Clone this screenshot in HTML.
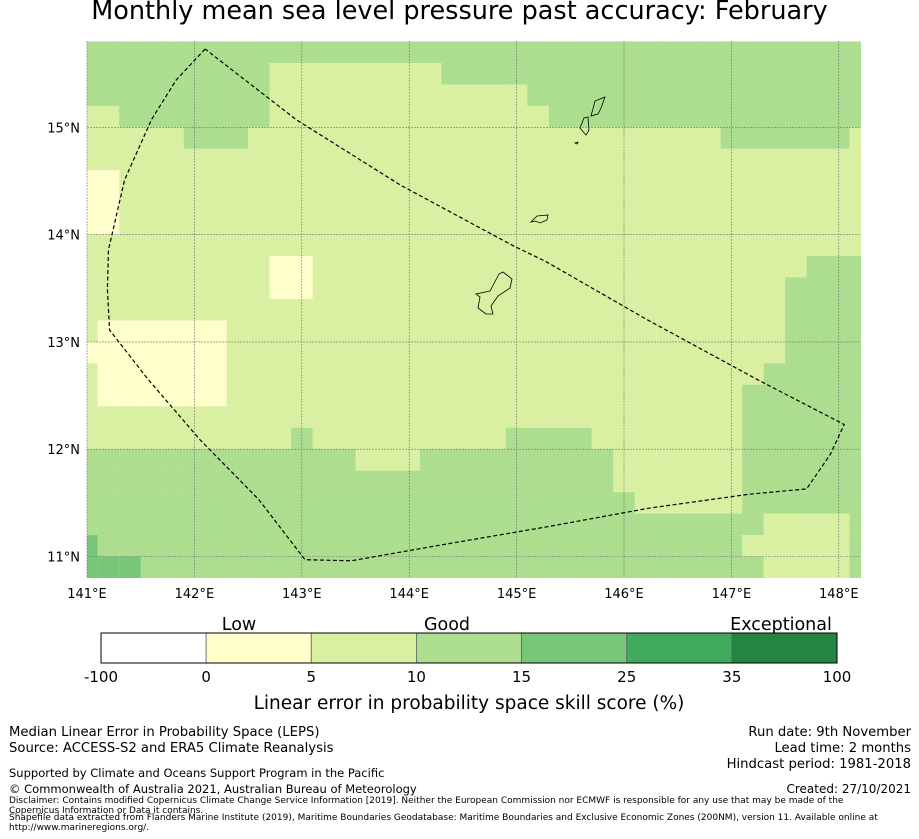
<!DOCTYPE html>
<html><head><meta charset="utf-8">
<style>
body{margin:0;background:#fff;font-family:"DejaVu Sans","Liberation Sans",sans-serif;}
#root{position:relative;width:919px;height:839px;overflow:hidden;}
.t{position:absolute;white-space:nowrap;color:#000;}
</style></head>
<body>
<div id="root">
<div class="t" style="left:0;width:919px;text-align:center;top:-4px;font-size:25.5px;">Monthly mean sea level pressure past accuracy: February</div>
<svg id="map" width="919" height="839" style="position:absolute;left:0;top:0" xmlns="http://www.w3.org/2000/svg"></svg>
<div class="t" style="left:9px;top:725px;font-size:13.2px;line-height:16px">Median Linear Error in Probability Space (LEPS)<br>Source: ACCESS-S2 and ERA5 Climate Reanalysis</div>
<div class="t" style="left:9px;top:766px;font-size:11.5px;">Supported by Climate and Oceans Support Program in the Pacific</div>
<div class="t" style="left:9px;top:782px;font-size:11.5px;">© Commonwealth of Australia 2021, Australian Bureau of Meteorology</div>
<div class="t" style="left:9px;top:796px;font-size:9px;line-height:10px;white-space:normal;width:880px">Disclaimer: Contains modified Copernicus Climate Change Service Information [2019]. Neither the European Commission nor ECMWF is responsible for any use that may be made of the Copernicus Information or Data it contains.</div>
<div class="t" style="left:9px;top:813px;font-size:9px;line-height:10px;white-space:normal;width:900px">Shapefile data extracted from Flanders Marine Institute (2019), Maritime Boundaries Geodatabase: Maritime Boundaries and Exclusive Economic Zones (200NM), version 11. Available online at http://www.marineregions.org/.</div>
<div class="t" style="right:8px;top:725px;font-size:13.2px;line-height:16px;text-align:right">Run date: 9th November<br>Lead time: 2 months<br>Hindcast period: 1981-2018</div>
<div class="t" style="right:8px;top:782px;font-size:12px;">Created: 27/10/2021</div>
</div>
<script>
// grid rows (north to south), each char = class per 0.2° column
const gridRows = [
"3333333333333333333333333333333333333",
"3333333332222222233333333333333333333",
"3333333332222222222223333333333333333",
"2233333332222222222222333333333333333",
"2222233322222222222222222222223333332",
"2222222222222222222222222222222222222",
"1122222222222222222222222222222222222",
"1122222222222222222222222222222222222",
"1122222222222222222222222222222222222",
"2222222222222222222222222222222222222",
"2222222221122222222222222222222222333",
"2222222221122222222222222222222223333",
"2222222222222222222222222222222223333",
"2111111222222222222222222222222223333",
"1111111222222222222222222222222223333",
"2111111222222222222222222222222233333",
"2111111222222222222222222222222333333",
"2222222222222222222222222222222333333",
"2222222222322222222233332222222333333",
"3333333333333222333333333222222333333",
"3333333333333333333333333222222333333",
"3333333333333333333333333322222333333",
"3333333333333333333333333333333322223",
"4333333333333333333333333333333222223",
"4443333333333333333333333333333322223"
];
const classColors = ["#ffffff","#ffffcc","#d9f0a3","#addd8e","#78c679","#41ab5d","#238443"];
const cbTicks = ["-100","0","5","10","15","25","35","100"];
const lonTicks = [141,142,143,144,145,146,147,148];
const latTicks = [15,14,13,12,11];
const boundaryLon = [142.1,141.83,141.6,141.35,141.2,141.19,141.21,141.57,142.05,142.6,143.03,143.46,144.37,145.3,146.23,147.16,147.7,147.92,148.05,147.24,146.21,145.27,144.96,143.92,142.95,142.1];
const boundaryLat = [15.73,15.44,15.07,14.51,13.86,13.49,13.11,12.65,12.09,11.53,10.97,10.96,11.12,11.28,11.45,11.58,11.63,11.95,12.23,12.65,13.21,13.75,13.9,14.46,15.07,15.73];

const svg=document.getElementById('map');
const NS="http://www.w3.org/2000/svg";
const X0=87,X1=861,Y0=41,Y1=578;
const xS=lon=>87+(lon-141)*107.4;
const yS=lat=>556.5-(lat-11)*107.3;
function mk(t,a){const e=document.createElementNS(NS,t);for(const k in a)e.setAttribute(k,a[k]);svg.appendChild(e);return e;}
const clip=mk('clipPath',{id:'mc'});
const cr=document.createElementNS(NS,'rect');cr.setAttribute('x',X0);cr.setAttribute('y',Y0);cr.setAttribute('width',X1-X0);cr.setAttribute('height',Y1-Y0);clip.appendChild(cr);
const g=mk('g',{'clip-path':'url(#mc)'});


gridRows.forEach((row,j)=>{
  for(let i=0;i<row.length;i++){
    const lon0=140.9+0.2*i, lat1=15.8-0.2*j;
    const r=document.createElementNS(NS,'rect');
    r.setAttribute('x',xS(lon0));r.setAttribute('y',yS(lat1));
    r.setAttribute('width',21.6);r.setAttribute('height',21.6);
    r.setAttribute('fill',classColors[+row[i]]);
    
    
    g.appendChild(r);
  }
});
lonTicks.forEach(l=>{const e=mk('line',{x1:xS(l),x2:xS(l),y1:Y0,y2:Y1,stroke:'#777','stroke-width':0.6,'stroke-dasharray':'2,1'});

const t=mk('text',{x:xS(l),y:598,'font-size':13,'text-anchor':'middle','font-family':'DejaVu Sans, sans-serif'});t.textContent=l+'°E';
});
latTicks.forEach(l=>{const e=mk('line',{x1:X0,x2:X1,y1:yS(l),y2:yS(l),stroke:'#777','stroke-width':0.6,'stroke-dasharray':'2,1'});

const t=mk('text',{x:80,y:yS(l)+5,'font-size':13,'text-anchor':'end','font-family':'DejaVu Sans, sans-serif'});t.textContent=l+'°N';
});
const isl=["M486,314 L478,308 L480,297 L476,294 L490,291 L499,274 L503,272 L512,279 L510,288 L498,296 L491,306 L493,314 Z",
"M531,222 L537,216 L548,215 L547,220 L540,223 L535,221 Z",
"M580,128 L584,118 L588,117 L589,130 L586,135 Z",
"M591,116 L595,101 L605,97 L601,108 L598,114 Z",
"M575,143 L578,142 L577,144 Z"];
isl.forEach(d=>{const e=mk('path',{d:d,fill:'none',stroke:'#000','stroke-width':0.8});
});
const pts=boundaryLon.map((l,k)=>xS(l).toFixed(1)+','+yS(boundaryLat[k]).toFixed(1)).join(' ');
const b=mk('polyline',{points:pts,fill:'none',stroke:'#000','stroke-width':1.2,'stroke-dasharray':'4,2.5'});

const cbX=101,cbW=736/7;
classColors.forEach((c,k)=>{const e=mk('rect',{x:cbX+k*cbW,y:633,width:cbW,height:30,fill:c,stroke:'#666','stroke-width':0.8});
});
const cbo=mk('rect',{x:cbX,y:633,width:736,height:30,fill:'none',stroke:'#000','stroke-width':1});

cbTicks.forEach((s,k)=>{const t=mk('text',{x:cbX+k*cbW,y:682,'font-size':15,'text-anchor':'middle','font-family':'DejaVu Sans, sans-serif'});t.textContent=s;
});
[["Low",239],["Good",447],["Exceptional",781]].forEach(a=>{const t=mk('text',{x:a[1],y:630,'font-size':17.5,'text-anchor':'middle','font-family':'DejaVu Sans, sans-serif'});t.textContent=a[0];
});
const ct=mk('text',{x:469,y:709,'font-size':18.5,'text-anchor':'middle','font-family':'DejaVu Sans, sans-serif'});ct.textContent='Linear error in probability space skill score (%)';

</script>
</body></html>
